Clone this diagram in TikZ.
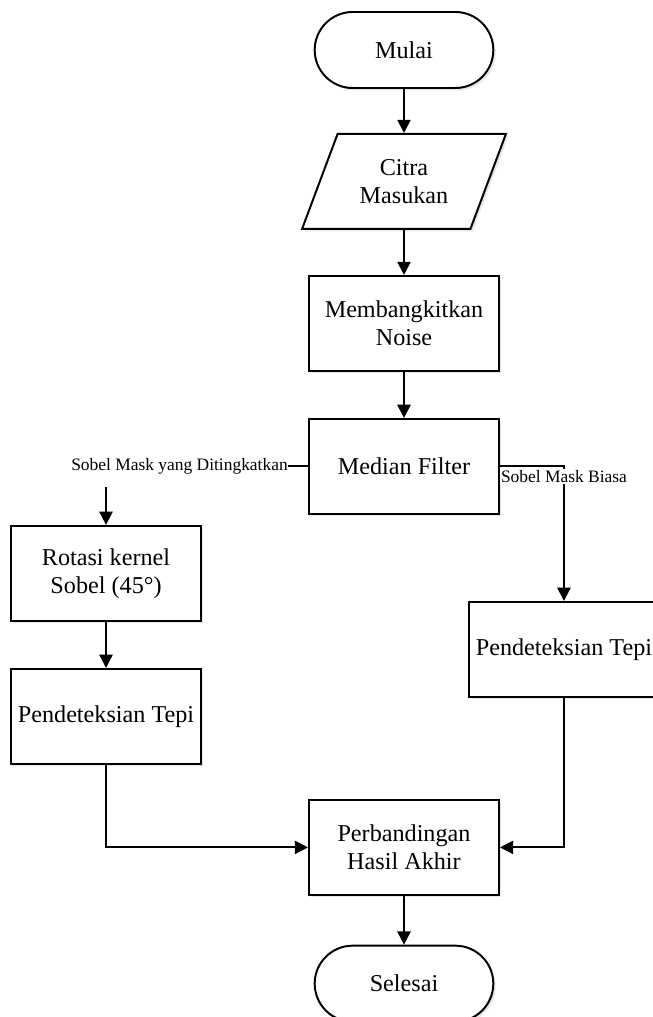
\documentclass[tikz,border=0pt]{standalone}
\usepackage{fontspec}
\setmainfont{Liberation Serif}
\usepackage{tikz}
\usetikzlibrary{arrows.meta, positioning, shapes.geometric, shapes.misc, shadows}
\newcommand{\boxfont}{\fontsize{17.2pt}{20pt}\selectfont}
\newcommand{\lblfont}{\fontsize{12.4pt}{14pt}\selectfont}

\begin{document}
\begin{tikzpicture}[
    every node/.style={font=\boxfont},
    fc/.style={draw, line width=1.4pt, fill=white, align=center,
      drop shadow={shadow xshift=0.06cm, shadow yshift=-0.06cm, opacity=0.2}},
    proc/.style={fc, rectangle, minimum width=4.75cm, minimum height=2.375cm},
    term/.style={fc, rounded rectangle, minimum width=4.7cm, minimum height=1.9cm},
    io/.style={fc, trapezium, trapezium left angle=64, trapezium right angle=116,
      trapezium stretches=true, minimum width=5.1cm, minimum height=2.375cm},
    lbl/.style={font=\lblfont, fill=white, inner sep=1pt},
    arr/.style={line width=1.4pt, -{Triangle[length=0.33cm, width=0.33cm]}},
]
  \useasboundingbox (-10.1,1.25) rectangle (6.2,-24.175);

  \node[term] (start) {Mulai};
  \node[io, below=1.1cm of start] (input) {Citra\\Masukan};
  \node[proc, below=1.125cm of input] (noise) {Membangkitkan\\Noise};
  \node[proc, below=1.15cm of noise] (median) {Median Filter};
  \node[proc, below left=0.25cm and 2.65cm of median] (rot) {Rotasi kernel\\Sobel (45°)};
  \node[proc, below=1.15cm of rot] (edgeL) {Pendeteksian Tepi};
  \node[proc, below right=2.15cm and -0.8cm of median] (edgeR) {Pendeteksian Tepi};
  \node[proc, below=7.1cm of median] (cmp) {Perbandingan\\Hasil Akhir};
  \node[term, below=1.22cm of cmp] (stop) {Selesai};

  \node[lbl, inner sep=0pt, left=0.5cm of median] (lblL) {Sobel Mask yang Ditingkatkan};

  \draw[arr] (start) -- (input);
  \draw[arr] (input) -- (noise);
  \draw[arr] (noise) -- (median);
  \draw[line width=1.4pt] (median) -- (lblL);
  \draw[arr] ([yshift=-0.3cm]lblL.south -| rot) -- (rot);
  \draw[arr] (median.east) -| node[lbl, pos=0.5, anchor=north, yshift=-0.05cm] {Sobel Mask Biasa} (edgeR);
  \draw[arr] (rot) -- (edgeL);
  \draw[arr] (edgeL) |- (cmp);
  \draw[arr] (edgeR) |- (cmp);
  \draw[arr] (cmp) -- (stop);
\end{tikzpicture}
\end{document}
